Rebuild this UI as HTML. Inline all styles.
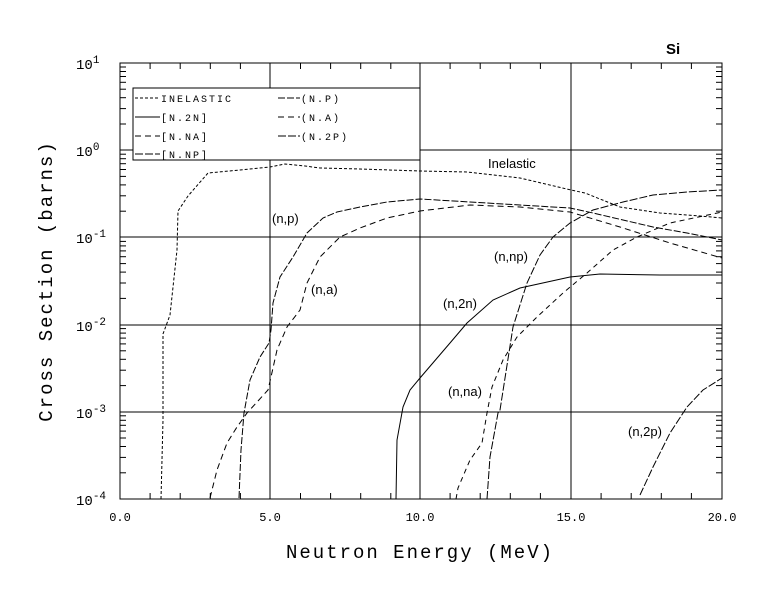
<!DOCTYPE html>
<html><head><meta charset="utf-8"><style>
body{margin:0;background:#fff;}
svg{display:block;font-family:"Liberation Sans",sans-serif;}
.t{font-family:"Liberation Sans",sans-serif;font-size:13px;fill:#000;}
.m{font-family:"Liberation Mono",monospace;fill:#000;}
</style></head><body>
<svg width="780" height="590" viewBox="0 0 780 590" xmlns="http://www.w3.org/2000/svg">
<defs>
<g id="dec" stroke="#000" stroke-width="1">
<line x1="0" y1="-26.2" x2="6" y2="-26.2"/><line x1="0" y1="-41.6" x2="6" y2="-41.6"/>
<line x1="0" y1="-52.5" x2="6" y2="-52.5"/><line x1="0" y1="-61" x2="6" y2="-61"/>
<line x1="0" y1="-67.9" x2="6" y2="-67.9"/><line x1="0" y1="-73.7" x2="6" y2="-73.7"/>
<line x1="0" y1="-78.7" x2="6" y2="-78.7"/><line x1="0" y1="-83.2" x2="6" y2="-83.2"/>
</g>
</defs>
<rect width="780" height="590" fill="#fff"/>
<g stroke="#000" stroke-width="1" fill="none">
<rect x="120" y="63" width="602" height="436"/>
<line x1="270" y1="63" x2="270" y2="499"/>
<line x1="420" y1="63" x2="420" y2="499"/>
<line x1="571" y1="63" x2="571" y2="499"/>
<line x1="120" y1="150" x2="722" y2="150"/>
<line x1="120" y1="237" x2="722" y2="237"/>
<line x1="120" y1="325" x2="722" y2="325"/>
<line x1="120" y1="412" x2="722" y2="412"/>
<path d="M150.1,499v-6M180.2,499v-6M210.3,499v-6M240.4,499v-6M300.5,499v-6M330.6,499v-6M360.7,499v-6M390.8,499v-6M450.1,499v-6M480.2,499v-6M510.3,499v-6M540.4,499v-6M601.1,499v-6M631.2,499v-6M661.3,499v-6M691.4,499v-6
M150.1,63v6M180.2,63v6M210.3,63v6M240.4,63v6M300.5,63v6M330.6,63v6M360.7,63v6M390.8,63v6M450.1,63v6M480.2,63v6M510.3,63v6M540.4,63v6M601.1,63v6M631.2,63v6M661.3,63v6M691.4,63v6"/>
</g>
<use href="#dec" transform="translate(120,499)"/>
<use href="#dec" transform="translate(120,411.8)"/>
<use href="#dec" transform="translate(120,324.6)"/>
<use href="#dec" transform="translate(120,237.4)"/>
<use href="#dec" transform="translate(120,150.2)"/>
<use href="#dec" transform="translate(716,499)"/>
<use href="#dec" transform="translate(716,411.8)"/>
<use href="#dec" transform="translate(716,324.6)"/>
<use href="#dec" transform="translate(716,237.4)"/>
<use href="#dec" transform="translate(716,150.2)"/>
<g class="m" font-size="12">
<text x="120" y="521" text-anchor="middle">0.0</text>
<text x="270" y="521" text-anchor="middle">5.0</text>
<text x="420" y="521" text-anchor="middle">10.0</text>
<text x="571" y="521" text-anchor="middle">15.0</text>
<text x="722" y="521" text-anchor="middle">20.0</text>
</g>
<g class="m" font-size="14">
<text x="76" y="69">10<tspan font-size="11" dy="-6">1</tspan></text>
<text x="76" y="156">10<tspan font-size="11" dy="-6">0</tspan></text>
<text x="76" y="243">10<tspan font-size="11" dy="-6">-1</tspan></text>
<text x="76" y="331">10<tspan font-size="11" dy="-6">-2</tspan></text>
<text x="76" y="418">10<tspan font-size="11" dy="-6">-3</tspan></text>
<text x="76" y="505">10<tspan font-size="11" dy="-6">-4</tspan></text>
</g>
<text x="420" y="558" text-anchor="middle" class="m" font-size="19" letter-spacing="2">Neutron Energy (MeV)</text>
<text transform="translate(52,281) rotate(-90)" text-anchor="middle" class="m" font-size="19" letter-spacing="2">Cross Section (barns)</text>
<text x="666" y="54" font-size="15" font-weight="bold" fill="#000">Si</text>
<rect x="133" y="88" width="287" height="72" fill="#fff" stroke="#000"/>
<g stroke="#000" fill="none">
<line x1="135" y1="98" x2="160" y2="98" stroke-dasharray="3,2"/>
<line x1="135" y1="117" x2="160" y2="117"/>
<line x1="135" y1="136" x2="160" y2="136" stroke-dasharray="6,4"/>
<line x1="135" y1="154" x2="160" y2="154" stroke-dasharray="8,2"/>
<line x1="278" y1="98" x2="300" y2="98" stroke-dasharray="7,2"/>
<line x1="278" y1="117" x2="300" y2="117" stroke-dasharray="6,4"/>
<line x1="278" y1="136" x2="300" y2="136" stroke-dasharray="8,2"/>
</g>
<g class="m" font-size="10" letter-spacing="2">
<text x="161" y="102">INELASTIC</text>
<text x="161" y="121">[N.2N]</text>
<text x="161" y="140">[N.NA]</text>
<text x="161" y="158">[N.NP]</text>
<text x="301" y="102">(N.P)</text>
<text x="301" y="121">(N.A)</text>
<text x="301" y="140">(N.2P)</text>
</g>
<g stroke="#000" fill="none" stroke-width="1">
<polyline stroke-dasharray="3,2" points="161,499 163,420 163,334 170,315 177,250 178,211 188,196 208,173 240,170 270,167 285,164 305,166 320,168 360,169 420,171 467,172 520,178 571,190 585,193 620,207 660,213 700,216 722,218"/>
<polyline stroke-dasharray="7,2" points="239,498 241,450 244,413 250,380 260,357 269,343 271,330 273,303 280,277 293,257 307,233 323,218 337,212 360,207 387,202 420,199 470,202 520,205 570,208 593,213 653,227 687,233 722,240"/>
<polyline stroke-dasharray="6,4" points="210,498 217,470 227,443 237,427 247,413 268,390 271,377 277,350 287,327 300,310 307,283 320,257 340,237 360,228 387,218 420,211 470,205 520,207 570,212 620,227 670,243 722,258"/>
<polyline points="396,499 397,440 403,407 410,390 420,378 450,343 467,323 493,300 520,288 570,277 600,274 660,275 722,275"/>
<polyline stroke-dasharray="8,2" points="487,499 490,457 498,413 500,410 513,327 527,283 540,255 553,237 570,223 593,210 623,202 653,195 687,192 722,190"/>
<polyline stroke-dasharray="5,4" points="456,499 458,488 470,460 482,443 487,413 492,387 503,360 517,337 537,317 563,293 587,273 613,250 637,237 670,223 722,212"/>
<polyline stroke-dasharray="8,2" points="640,495 653,467 670,433 687,407 703,390 722,378"/>
</g>
<g class="t">
<text x="488" y="168">Inelastic</text>
<text x="272" y="223">(n,p)</text>
<text x="311" y="294">(n,a)</text>
<text x="494" y="261">(n,np)</text>
<text x="443" y="308">(n,2n)</text>
<text x="448" y="396">(n,na)</text>
<text x="628" y="436">(n,2p)</text>
</g>
</svg>
</body></html>
